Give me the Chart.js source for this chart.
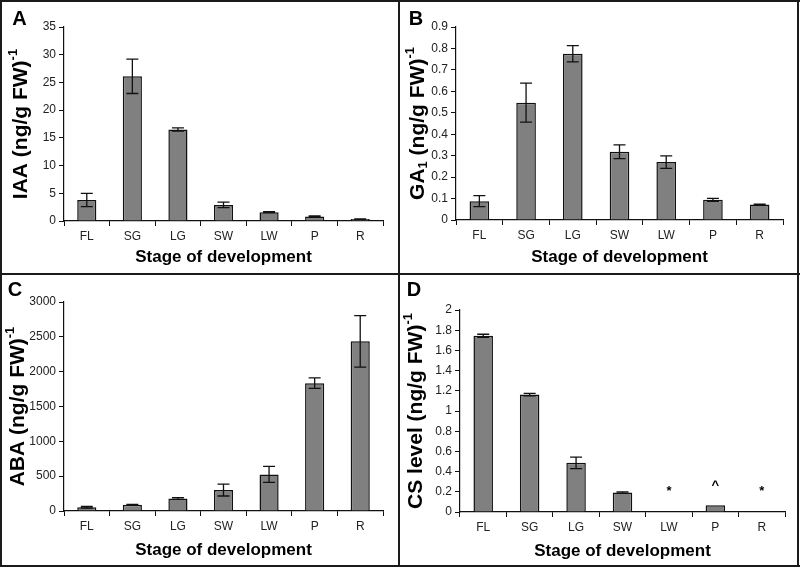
<!DOCTYPE html>
<html>
<head>
<meta charset="utf-8">
<script src="https://cdn.jsdelivr.net/npm/chart.js@4.4.0/dist/chart.umd.min.js"></script>
<style>
  body { margin: 0; background: #fff; }
  #frame { position: relative; width: 800px; height: 567px; overflow: hidden; }
  #frame canvas, #frame .ln { position: absolute; }
  .ln { background: #1a1a1a; }
</style>
</head>
<body>
<div id="frame">
  <canvas id="chartA" width="396" height="271" style="left:2px;top:2px"></canvas>
  <canvas id="chartB" width="397" height="271" style="left:400px;top:2px"></canvas>
  <canvas id="chartC" width="396" height="290" style="left:2px;top:275px"></canvas>
  <canvas id="chartD" width="397" height="290" style="left:400px;top:275px"></canvas>
  <div class="ln" style="left:0;top:0;width:800px;height:2px"></div>
  <div class="ln" style="left:0;top:565px;width:800px;height:2px"></div>
  <div class="ln" style="left:0;top:0;width:2px;height:567px"></div>
  <div class="ln" style="left:797px;top:0;width:2px;height:567px"></div>
  <div class="ln" style="left:398px;top:0;width:2px;height:567px"></div>
  <div class="ln" style="left:0;top:273px;width:800px;height:2px"></div>
</div>
<script>
const stages = ['FL', 'SG', 'LG', 'SW', 'LW', 'P', 'R'];

// IAA
const iaa = [3.8, 26.1, 16.5, 2.9, 1.6, 0.8, 0.35];
const iaaErr = [1.2, 3.1, 0.3, 0.5, 0.1, 0.1, 0.05];
const iaaTicks = [0, 35, 5];

// GA1
const ga1 = [0.088, 0.547, 0.775, 0.318, 0.270, 0.094, 0.072];
const ga1Err = [0.026, 0.091, 0.038, 0.032, 0.029, 0.007, 0.002];
const ga1Ticks = [0, 0.9, 0.1];

// ABA
const aba = [55, 88, 180, 300, 525, 1835, 2435];
const abaErr = [12, 5, 12, 85, 115, 75, 370];
const abaTicks = [0, 3000, 500];

// CS
const cs = [1.745, 1.163, 0.487, 0.192, 0, 0.068, 0];
const csErr = [0.015, 0.012, 0.057, 0.007, 0, 0, 0];
const csMarks = ['', '', '', '', '*', '^', '*'];
const csMarkLevel = [null, null, null, null, 0.2, 0.26, 0.2];
const csTicks = [0, 2, 0.2];

const FONT = "'Liberation Sans', Arial, Helvetica, sans-serif";

// titres de l'axe y (avec exposant / indice)
function drawYTitle(ctx, parts, cx, cy) {
    ctx.save();
    ctx.translate(cx, cy);
    ctx.rotate(-Math.PI / 2);
    ctx.fillStyle = '#000';
    ctx.textBaseline = 'middle';
    let total = 0;
    parts.forEach(p => {
        ctx.font = (p.sup || p.sub) ? 'bold 13px ' + FONT : 'bold 21px ' + FONT;
        p.w = ctx.measureText(p.t).width;
        total += p.w;
    });
    let x = -total / 2;
    parts.forEach(p => {
        ctx.font = (p.sup || p.sub) ? 'bold 13px ' + FONT : 'bold 21px ' + FONT;
        const dy = p.sup ? -8 : (p.sub ? 5 : 0);
        ctx.fillText(p.t, x, dy);
        x += p.w;
    });
    ctx.restore();
}

function makeDecor(cfg) {
    return {
        id: 'decor',
        afterDatasetsDraw(chart) {
            const ctx = chart.ctx;
            const y = chart.scales.y;
            const meta = chart.getDatasetMeta(0);
            const vals = chart.data.datasets[0].data;
            ctx.save();
            ctx.strokeStyle = '#111';
            ctx.lineWidth = 1.3;
            cfg.err.forEach((e, i) => {
                if (!e) return;
                const px = meta.data[i].x;
                const top = y.getPixelForValue(vals[i] + e);
                const bot = y.getPixelForValue(vals[i] - e);
                ctx.beginPath();
                ctx.moveTo(px, top); ctx.lineTo(px, bot);
                ctx.moveTo(px - 6, top); ctx.lineTo(px + 6, top);
                ctx.moveTo(px - 6, bot); ctx.lineTo(px + 6, bot);
                ctx.stroke();
            });
            if (cfg.marks) {
                ctx.fillStyle = '#000';
                ctx.font = 'bold 13px ' + FONT;
                ctx.textAlign = 'center';
                ctx.textBaseline = 'middle';
                cfg.marks.forEach((m, i) => {
                    if (!m) return;
                    ctx.fillText(m, meta.data[i].x, y.getPixelForValue(cfg.markLevel[i]));
                });
            }
            ctx.restore();
        },
        afterDraw(chart) {
            const ctx = chart.ctx;
            const area = chart.chartArea;
            drawYTitle(ctx, cfg.yTitle, cfg.yTitleX, (area.top + area.bottom) / 2);
            ctx.save();
            ctx.fillStyle = '#000';
            ctx.font = 'bold 20px ' + FONT;
            ctx.textAlign = 'center';
            ctx.textBaseline = 'middle';
            ctx.fillText(cfg.letter, cfg.letterPos[0], cfg.letterPos[1]);
            ctx.restore();
        }
    };
}

function makeChart(id, values, ticks, cfg) {
    const canvas = document.getElementById(id);
    const W = canvas.width, H = canvas.height;
    return new Chart(canvas.getContext('2d'), {
        type: 'bar',
        data: {
            labels: stages,
            datasets: [{
                data: values,
                backgroundColor: '#808080',
                borderColor: '#111',
                borderWidth: 1.5,
                borderSkipped: 'bottom',
                categoryPercentage: 1,
                barPercentage: 0.42
            }]
        },
        options: {
            responsive: false,
            animation: false,
            devicePixelRatio: 1,
            layout: { padding: { top: cfg.top, right: W - cfg.right, left: 0, bottom: 0 } },
            plugins: { legend: { display: false }, tooltip: { enabled: false } },
            scales: {
                x: {
                    afterFit(s) { s.height = H - cfg.bottom; },
                    grid: { drawOnChartArea: false, drawTicks: true, tickLength: 5, color: '#111', offset: true },
                    border: { display: true, color: '#111', width: 1.2 },
                    ticks: { color: '#222', font: { family: FONT, size: 12 }, padding: 3 },
                    title: {
                        display: true,
                        text: 'Stage of development',
                        color: '#000',
                        font: { family: FONT, size: 17, weight: 'bold' },
                        padding: { top: 0, bottom: cfg.xTitlePad }
                    }
                },
                y: {
                    min: ticks[0],
                    max: ticks[1],
                    afterFit(s) { s.width = cfg.left; },
                    grid: { drawOnChartArea: false, drawTicks: true, tickLength: 5, color: '#111' },
                    border: { display: true, color: '#111', width: 1.2 },
                    ticks: {
                        stepSize: ticks[2],
                        color: '#222',
                        font: { family: FONT, size: 12 },
                        padding: 3,
                        callback: v => String(+v.toFixed(2))
                    }
                }
            }
        },
        plugins: [makeDecor(cfg)]
    });
}

makeChart('chartA', iaa, iaaTicks, {
    left: 62, top: 25, right: 381, bottom: 219, xTitlePad: 5.8,
    err: iaaErr, letter: 'A', letterPos: [17.5, 17], yTitleX: 19,
    yTitle: [{ t: 'IAA (ng/g FW)' }, { t: '-1', sup: true }]
});

makeChart('chartB', ga1, ga1Ticks, {
    left: 56, top: 25, right: 383, bottom: 218, xTitlePad: 5.8,
    err: ga1Err, letter: 'B', letterPos: [16, 17.5], yTitleX: 18,
    yTitle: [{ t: 'GA' }, { t: '1', sub: true }, { t: ' (ng/g FW)' }, { t: '-1', sup: true }]
});

makeChart('chartC', aba, abaTicks, {
    left: 62, top: 27, right: 381, bottom: 236, xTitlePad: 4.8,
    err: abaErr, letter: 'C', letterPos: [13, 15.5], yTitleX: 16,
    yTitle: [{ t: 'ABA (ng/g FW)' }, { t: '-1', sup: true }]
});

makeChart('chartD', cs, csTicks, {
    left: 60, top: 35, right: 385, bottom: 237, xTitlePad: 3.8,
    err: csErr, marks: csMarks, markLevel: csMarkLevel, letter: 'D', letterPos: [14, 15.5], yTitleX: 16,
    yTitle: [{ t: 'CS level (ng/g FW)' }, { t: '-1', sup: true }]
});
</script>
</body>
</html>
